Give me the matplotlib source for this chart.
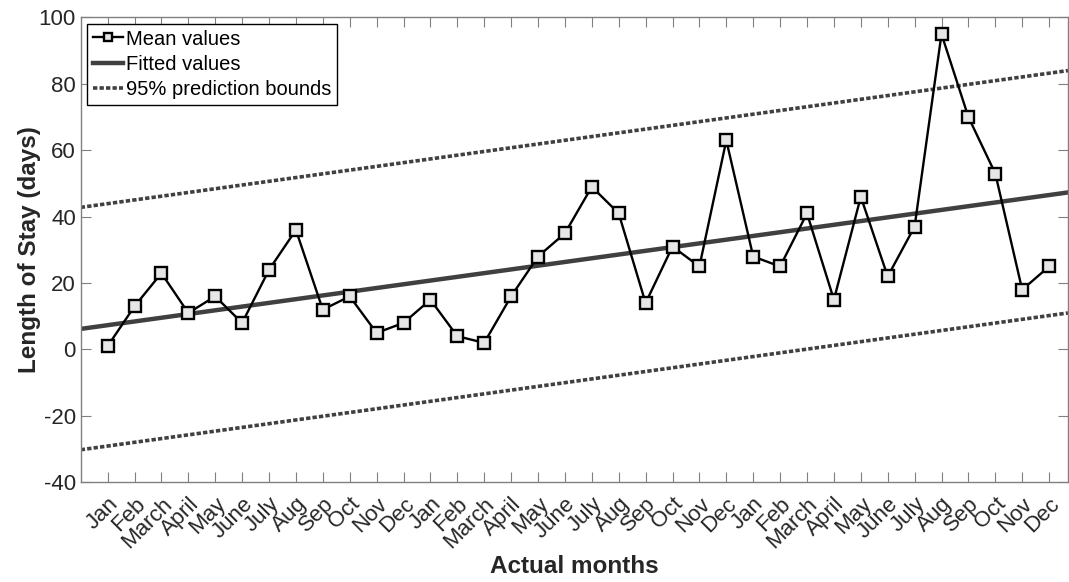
import matplotlib
matplotlib.use("Agg")
import matplotlib.pyplot as plt
import numpy as np

months = ['Jan', 'Feb', 'March', 'April', 'May', 'June', 'July', 'Aug',
          'Sep', 'Oct', 'Nov', 'Dec'] * 3
mean_values = [1, 13, 23, 11, 16, 8, 24, 36, 12, 16, 5, 8,
               15, 4, 2, 16, 28, 35, 49, 41, 14, 31, 25, 63,
               28, 25, 41, 15, 46, 22, 37, 95, 70, 53, 18, 25]

# fitted line and prediction bounds, read at the axis ends
line_x = [0, 36.7]
fitted = [6.2, 47.3]
upper = [42.8, 84.0]
lower = [-30.2, 11.0]

plt.rcParams['font.family'] = ['Liberation Sans', 'DejaVu Sans']
plt.rcParams['axes.unicode_minus'] = False

fig = plt.figure(figsize=(10.69, 5.82), dpi=100)
ax = fig.add_axes([0.0755, 0.1713, 0.9235, 0.7987])

x = np.arange(1, len(mean_values) + 1)
ax.plot(x, mean_values, '-s', color='black', lw=1.7, ms=9,
        mfc='#e6e6e6', mec='black', mew=1.7, label='Mean values', zorder=3)
ax.plot(line_x, fitted, '-', color='#404040', lw=3.2, label='Fitted values', zorder=2)
ax.plot(line_x, upper, color='#404040', lw=2.6, dashes=(1.2, 0.6),
        dash_capstyle='butt', label='95% prediction bounds', zorder=2)
ax.plot(line_x, lower, color='#404040', lw=2.6, dashes=(1.2, 0.6),
        dash_capstyle='butt', zorder=2)

ax.set_xlim(0, 36.7)
ax.set_ylim(-40, 100)
ax.set_yticks(range(-40, 101, 20))
ax.set_xticks(x)
ax.set_xticklabels(months, rotation=45, ha='right', va='top',
                   rotation_mode='anchor')

for s in ax.spines.values():
    s.set_color('#808080')
    s.set_linewidth(1)
ax.tick_params(direction='in', top=True, right=True, length=7,
               color='#808080', labelcolor='#262626', labelsize=16)
ax.tick_params(axis='x', pad=8)

ax.set_xlabel('Actual months', fontsize=17.5, fontweight='bold',
              color='#262626', labelpad=2)
ax.set_ylabel('Length of Stay (days)', fontsize=17.5, fontweight='bold',
              color='#262626', labelpad=-2)

leg = ax.legend(loc='upper left', fontsize=14.5, handlelength=1.5,
                handletextpad=0.15, borderpad=0.3, labelspacing=0.3,
                fancybox=False, framealpha=1, borderaxespad=0.3)
leg.get_frame().set_edgecolor('black')
leg.get_frame().set_linewidth(1)
for h in leg.get_lines():
    h.set_markersize(6)

fig.savefig('out.png', dpi=100)
